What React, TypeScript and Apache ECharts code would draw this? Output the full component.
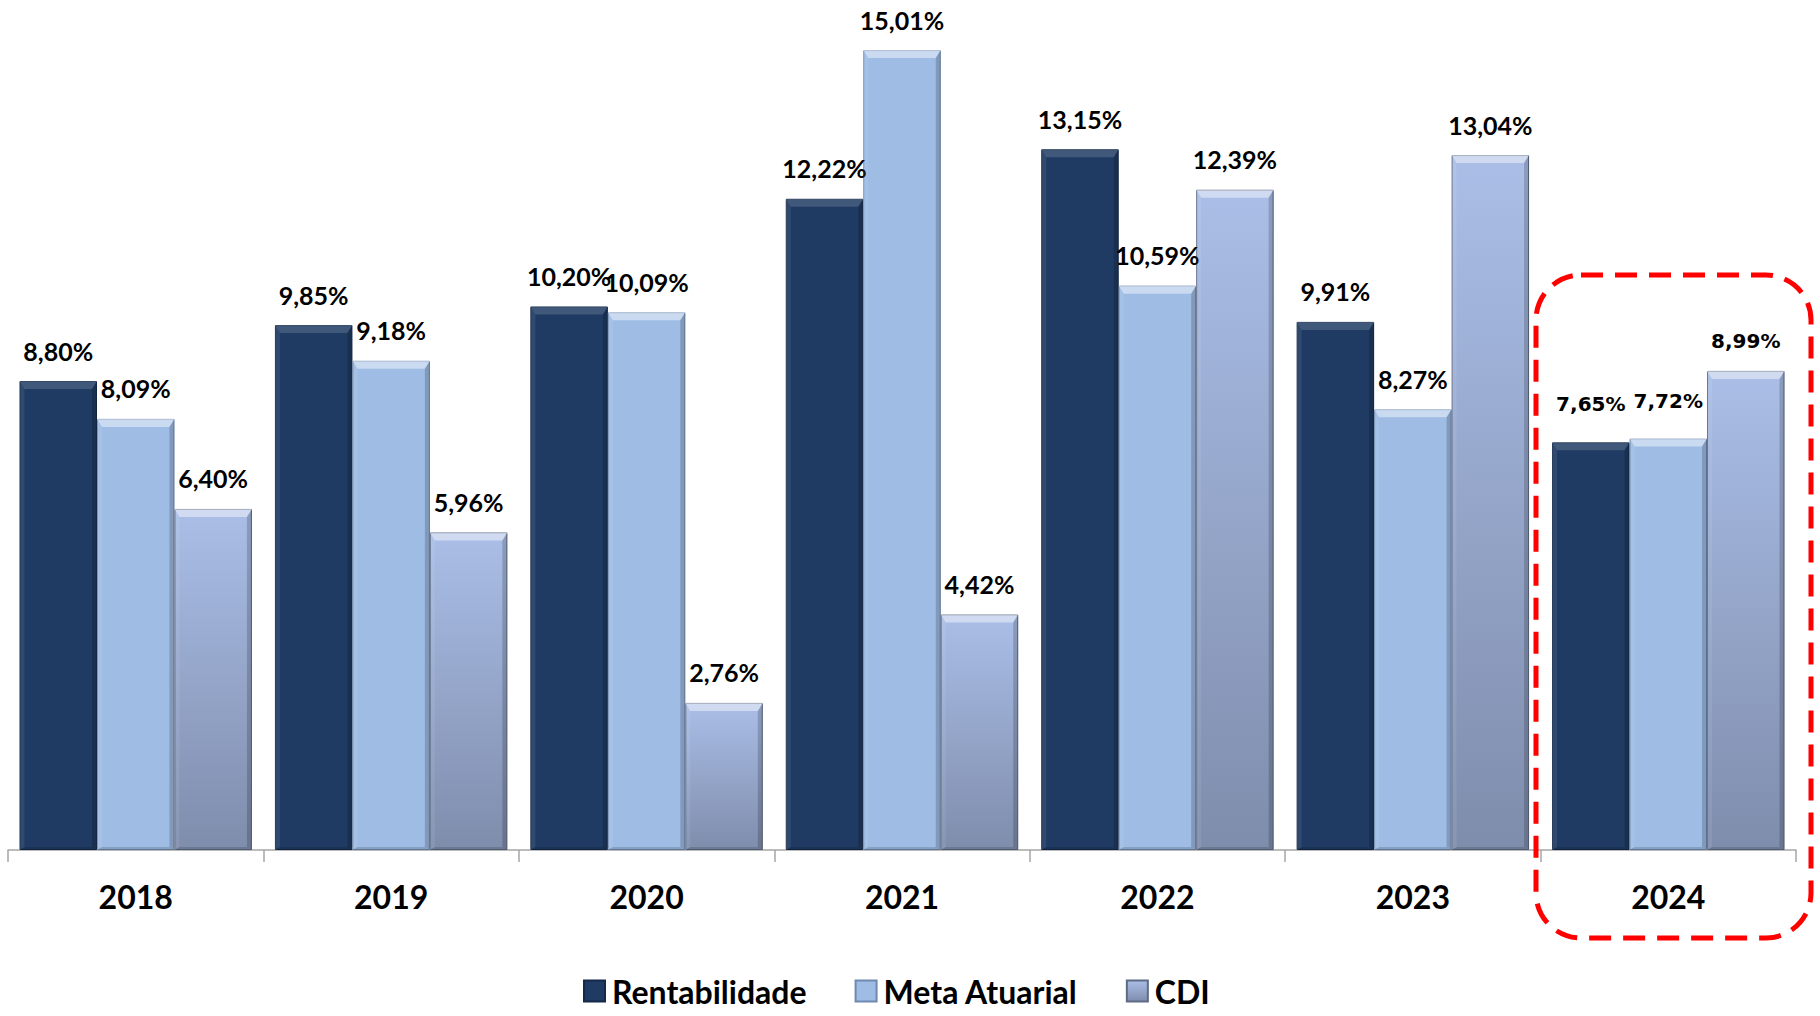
import React, { useEffect, useRef } from "react";
import * as echarts from "echarts";

const years = ["2018", "2019", "2020", "2021", "2022", "2023", "2024"];
const rentabilidade = [8.8, 9.85, 10.2, 12.22, 13.15, 9.91, 7.65];
const metaAtuarial = [8.09, 9.18, 10.09, 15.01, 10.59, 8.27, 7.72];
const cdi = [6.4, 5.96, 2.76, 4.42, 12.39, 13.04, 8.99];
const seriesNames = ["Rentabilidade", "Meta Atuarial", "CDI"];

const CAT_GAP = 0.09;

function fmt(v: number) {
  return v.toFixed(2).replace(".", ",") + "%";
}

function bevelSeries(k: number, vals: number[], topAlpha: number) {
  return {
    type: "custom",
    name: "bevel" + k,
    silent: true,
    z: 3,
    data: vals.map((v, i) => [i, v]),
    renderItem: (params: any, api: any) => {
      const ci = api.value(0);
      const val = api.value(1);
      const top = api.coord([ci, val]);
      const base = api.coord([ci, 0]);
      const W = api.size([1, 0])[0];
      const bw = (W * (1 - CAT_GAP)) / 3;
      const x0 = top[0] - 1.5 * bw + k * bw;
      const x1 = x0 + bw;
      const y0 = top[1];
      const yb = base[1];
      const b = 8;
      const s = 5;
      return {
        type: "group",
        children: [
          {
            type: "polygon",
            shape: { points: [[x0, y0], [x1, y0], [x1 - s, y0 + b], [x0 + s, y0 + b]] },
            style: { fill: `rgba(255,255,255,${topAlpha})` },
          },
          {
            type: "polygon",
            shape: { points: [[x1, y0], [x1, yb], [x1 - s, yb - 3], [x1 - s, y0 + b]] },
            style: { fill: "rgba(0,0,0,0.18)" },
          },
          {
            type: "polygon",
            shape: { points: [[x0, y0], [x0 + s, y0 + b], [x0 + s, yb - 3], [x0, yb]] },
            style: { fill: "rgba(255,255,255,0.08)" },
          },
          {
            type: "polygon",
            shape: { points: [[x0, yb], [x0 + s, yb - 3], [x1 - s, yb - 3], [x1, yb]] },
            style: { fill: "rgba(0,0,0,0.15)" },
          },
        ],
      };
    },
  };
}

function barData(vals: number[], lastDistance: number) {
  return vals.map((v, i) =>
    i === 6
      ? { value: v, label: { fontFamily: "DejaVu Sans", fontSize: 20, distance: lastDistance } }
      : v
  );
}

const labelCfg = {
  show: true,
  position: "top",
  distance: 18,
  fontFamily: "Lato",
  fontWeight: "bold",
  fontSize: 25,
  color: "#000",
  formatter: (p: any) => fmt(p.value),
};

export default function App() {
  const ref = useRef<HTMLDivElement>(null);
  useEffect(() => {
    document.body.style.margin = "0";
    const chart = echarts.init(ref.current!, null, { renderer: "svg" });
    chart.setOption({
      animation: false,
      backgroundColor: "#ffffff",
      grid: { left: 8, right: 24, top: 24, bottom: 166 },
      legend: {
        data: seriesNames,
        left: 578,
        top: 970,
        icon: "rect",
        itemWidth: 21,
        itemHeight: 21,
        itemGap: 48,
        textStyle: {
          fontFamily: "Lato",
          fontWeight: "bold",
          fontSize: 32,
          lineHeight: 32,
          color: "#000",
          padding: [0, 0, 0, 2],
        },
      },
      xAxis: {
        type: "category",
        data: years,
        axisLine: { lineStyle: { color: "#A6A6A6", width: 1.5 } },
        axisTick: { show: true, length: 12, lineStyle: { color: "#A6A6A6", width: 1.5 } },
        axisLabel: {
          fontFamily: "Lato",
          fontWeight: "bold",
          fontSize: 32,
          color: "#000",
          margin: 30,
        },
      },
      yAxis: { type: "value", min: 0, max: 15.5, show: false, splitLine: { show: false } },
      series: [
        {
          name: seriesNames[0],
          type: "bar",
          barGap: "0%",
          barCategoryGap: "9%",
          data: barData(rentabilidade, 28),
          itemStyle: { color: "#1F3B63", borderColor: "#14294A", borderWidth: 1 },
          label: labelCfg,
        },
        {
          name: seriesNames[1],
          type: "bar",
          barGap: "0%",
          barCategoryGap: "9%",
          data: barData(metaAtuarial, 28),
          itemStyle: { color: "#9EBCE4", borderColor: "#6F89B0", borderWidth: 1 },
          label: labelCfg,
        },
        {
          name: seriesNames[2],
          type: "bar",
          barGap: "0%",
          barCategoryGap: "9%",
          data: barData(cdi, 20),
          itemStyle: {
            color: new echarts.graphic.LinearGradient(0, 0, 0, 1, [
              { offset: 0, color: "#AABEE7" },
              { offset: 1, color: "#7F8DAC" },
            ]),
            borderColor: "#5E6B86",
            borderWidth: 1,
          },
          label: labelCfg,
        },
        bevelSeries(0, rentabilidade, 0.15),
        bevelSeries(1, metaAtuarial, 0.45),
        bevelSeries(2, cdi, 0.45),
      ],
      graphic: [
        {
          type: "rect",
          shape: { x: 1536, y: 275, width: 275, height: 663, r: 45 },
          style: { fill: "none", stroke: "#FF0000", lineWidth: 5, lineDash: [22, 12] },
          z: 10,
        },
      ],
    });
    return () => chart.dispose();
  }, []);
  return <div ref={ref} style={{ width: 1820, height: 1016 }} />;
}
